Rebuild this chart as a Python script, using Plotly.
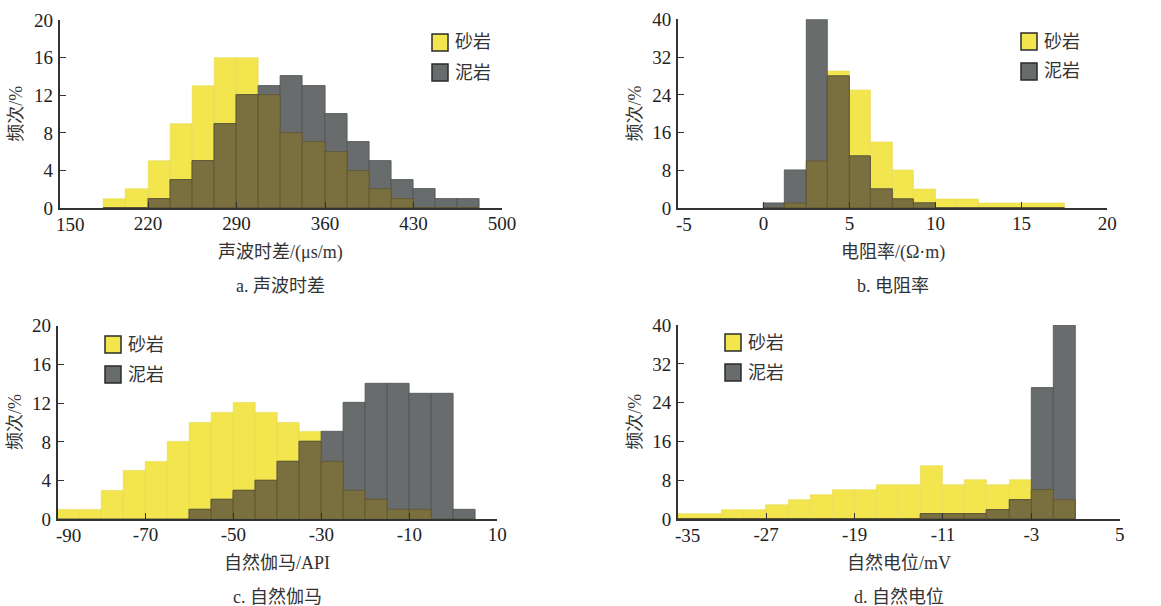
import plotly.graph_objects as go

# ---------------- data ----------------
# a. 声波时差 (bin width 17.5, starting at 185)
a_start, a_width = 185.0, 17.5
a_sand = [1, 2, 5, 9, 13, 16, 16, 12, 8, 7, 6, 4, 2, 1, 0, 0, 0]
a_mud = [0, 0, 1, 3, 5, 9, 12, 13, 14, 13, 10, 7, 5, 3, 2, 1, 1]
a_ticks = [150, 220, 290, 360, 430, 500]

# b. 电阻率 (bin width 1.25, starting at 0)
b_start, b_width = 0.0, 1.25
b_sand = [0, 1, 10, 29, 25, 14, 8, 4, 2, 2, 1, 1, 1, 1]
b_mud = [1, 8, 40, 28, 11, 4, 2, 1, 0, 0, 0, 0, 0, 0]
b_ticks = [-5, 0, 5, 10, 15, 20]

# c. 自然伽马 (bin width 5, starting at -90)
c_start, c_width = -90.0, 5.0
c_sand = [1, 1, 3, 5, 6, 8, 10, 11, 12, 11, 10, 9, 6, 3, 2, 1, 1, 0, 0]
c_mud = [0, 0, 0, 0, 0, 0, 1, 2, 3, 4, 6, 8, 9, 12, 14, 14, 13, 13, 1]
c_ticks = [-90, -70, -50, -30, -10, 10]

# d. 自然电位 (bin width 2, starting at -35)
d_start, d_width = -35.0, 2.0
d_sand = [1, 1, 2, 2, 3, 4, 5, 6, 6, 7, 7, 11, 7, 8, 7, 8, 6, 4]
d_mud = [0, 0, 0, 0, 0, 0, 0, 0, 0, 0, 0, 1, 1, 1, 2, 4, 27, 40]
d_ticks = [-35, -27, -19, -11, -3, 5]

YELLOW = "#F2E54E"
GRAY = "#686C6C"
OLIVE = "#7A6F3F"
AXC = "#333333"
FONT = '"Liberation Serif", "Times New Roman", "Noto Sans CJK SC", serif'

W, H = 1161, 606

panels = [
    dict(start=a_start, width=a_width, sand=a_sand, mud=a_mud, ticks=a_ticks, shift=11,
         xr=[150, 500], yr=[0, 20], ydt=4, px=(59.5, 502), py=(20, 208.3),
         xtitle="声波时差/(μs/m)", sub="a. 声波时差", leg=(432, 34)),
    dict(start=b_start, width=b_width, sand=b_sand, mud=b_mud, ticks=b_ticks, shift=6,
         xr=[-5, 20], yr=[0, 40], ydt=8, px=(677.7, 1107.3), py=(19.3, 208.3),
         xtitle="电阻率/(Ω·m)", sub="b. 电阻率", leg=(1021, 33)),
    dict(start=c_start, width=c_width, sand=c_sand, mud=c_mud, ticks=c_ticks, shift=11,
         xr=[-90, 10], yr=[0, 20], ydt=4, px=(57.5, 497.3), py=(325.7, 519.3),
         xtitle="自然伽马/API", sub="c. 自然伽马", leg=(105, 336)),
    dict(start=d_start, width=d_width, sand=d_sand, mud=d_mud, ticks=d_ticks, shift=10,
         xr=[-35, 5], yr=[0, 40], ydt=8, px=(677.7, 1119.8), py=(325.0, 519.3),
         xtitle="自然电位/mV", sub="d. 自然电位", leg=(725, 334)),
]

fig = go.Figure()
annotations = []
shapes = []

for i, p in enumerate(panels):
    n = i + 1
    xa = "x" if n == 1 else f"x{n}"
    ya = "y" if n == 1 else f"y{n}"
    centers = [p["start"] + p["width"] * (k + 0.5) for k in range(len(p["sand"]))]
    overlap = [min(s, m) for s, m in zip(p["sand"], p["mud"])]
    fig.add_trace(go.Bar(x=centers, y=p["sand"], width=p["width"], xaxis=xa, yaxis=ya,
                         marker=dict(color=YELLOW, line=dict(color="#E6DA55", width=0.6)),
                         showlegend=False, hoverinfo="skip"))
    fig.add_trace(go.Bar(x=centers, y=p["mud"], width=p["width"], xaxis=xa, yaxis=ya,
                         marker=dict(color=GRAY, line=dict(color="#4E5252", width=0.8)),
                         showlegend=False, hoverinfo="skip"))
    fig.add_trace(go.Bar(x=centers, y=overlap, width=p["width"], xaxis=xa, yaxis=ya,
                         marker=dict(color=OLIVE, line=dict(color="#5E5630", width=0.8)),
                         showlegend=False, hoverinfo="skip"))

    x0, x1 = p["px"]
    y0, y1 = p["py"]
    xdom = [x0 / W, x1 / W]
    ydom = [1 - y1 / H, 1 - y0 / H]
    axis_common = dict(showline=True, linecolor=AXC, linewidth=1.5, ticks="inside",
                       ticklen=7, tickwidth=1.3, tickcolor=AXC, showgrid=False,
                       zeroline=False, automargin=False,
                       tickfont=dict(family=FONT, size=19, color="#222"))
    xkey = "xaxis" if n == 1 else f"xaxis{n}"
    ykey = "yaxis" if n == 1 else f"yaxis{n}"
    ttext = [str(t) for t in p["ticks"]]
    first_label = ttext[0]
    ttext[0] = ""
    fig.update_layout({
        xkey: dict(domain=xdom, range=p["xr"], anchor=ya, tickmode="array",
                   tickvals=p["ticks"], ticktext=ttext,
                   ticklabelstandoff=-3, **axis_common),
        ykey: dict(domain=ydom, range=p["yr"], anchor=xa, tickmode="linear", tick0=0,
                   dtick=p["ydt"], ticklabelstandoff=1, **axis_common),
    })
    # first x tick label, nudged right of the axis corner (as in the reference)
    annotations.append(dict(text=first_label, x=p["ticks"][0], xref=xa, yref="paper",
                            y=1 - (y1 + 16) / H, xshift=p["shift"], showarrow=False,
                            xanchor="center", yanchor="middle",
                            font=dict(family=FONT, size=19, color="#222")))

    cx = (x0 + x1) / 2
    common_ann = dict(xref="paper", yref="paper", showarrow=False,
                      xanchor="center", yanchor="middle")
    annotations.append(dict(text=p["xtitle"], x=cx / W, y=1 - (y1 + 44) / H,
                            font=dict(family=FONT, size=18, color="#333"), **common_ann))
    annotations.append(dict(text=p["sub"], x=cx / W, y=1 - (y1 + 78) / H,
                            font=dict(family=FONT, size=18, color="#333"), **common_ann))
    annotations.append(dict(text="频次/%", x=(x0 - 43) / W, y=1 - ((y0 + y1) / 2) / H,
                            textangle=-90,
                            font=dict(family=FONT, size=18, color="#333"), **common_ann))
    lx, ly = p["leg"]
    for j, (col, lab) in enumerate([(YELLOW, "砂岩"), (GRAY, "泥岩")]):
        by = ly + j * 30
        shapes.append(dict(type="rect", xref="paper", yref="paper",
                           x0=lx / W, x1=(lx + 16) / W,
                           y0=1 - (by + 17) / H, y1=1 - by / H,
                           fillcolor=col, line=dict(color="#2a2a2a", width=1.5)))
        annotations.append(dict(text=lab, x=(lx + 21) / W, y=1 - (by + 8.5) / H,
                                xref="paper", yref="paper", showarrow=False,
                                xanchor="left", yanchor="middle",
                                font=dict(family=FONT, size=18, color="#333")))

fig.update_layout(template="none", width=W, height=H,
                  margin=dict(l=0, r=0, t=0, b=0, autoexpand=False),
                  barmode="overlay", bargap=0, plot_bgcolor="white",
                  paper_bgcolor="white", annotations=annotations, shapes=shapes,
                  font=dict(family=FONT))

fig.write_html("out.html")
